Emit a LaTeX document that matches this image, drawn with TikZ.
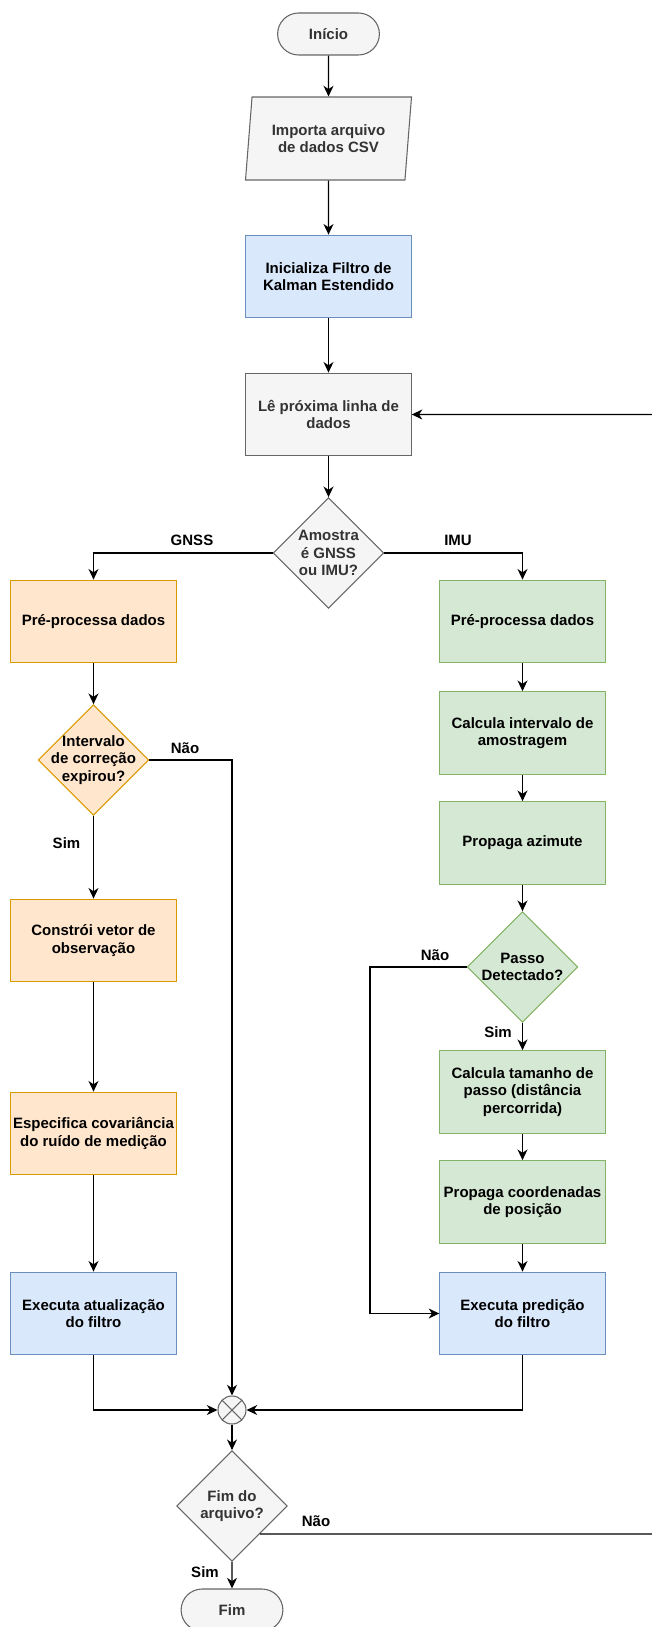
\documentclass[tikz,border=0pt]{standalone}
\usepackage{fontspec}
\setmainfont{Liberation Sans}
\usetikzlibrary{shapes.geometric}
\usetikzlibrary{shapes.misc}
\usetikzlibrary{arrows.meta}

\definecolor{grayfill}{HTML}{F5F5F5}
\definecolor{grayline}{HTML}{666666}
\definecolor{graytext}{HTML}{333333}
\definecolor{bluefill}{HTML}{DAE8FC}
\definecolor{blueline}{HTML}{6C8EBF}
\definecolor{orangefill}{HTML}{FFE6CC}
\definecolor{orangeline}{HTML}{D79B00}
\definecolor{greenfill}{HTML}{D5E8D4}
\definecolor{greenline}{HTML}{82B366}

\tikzset{
    flow_font/.style={font=\bfseries\fontsize{11.25}{13}\selectfont},
    task_box/.style={flow_font,rectangle,draw,line width=0.8pt,align=center,
        minimum width=124pt,minimum height=62pt,inner xsep=1pt},
    test_box/.style={flow_font,diamond,aspect=1,draw,line width=0.8pt,align=center,
        minimum width=83pt,minimum height=83pt,inner sep=-14pt},
    gray_style/.style={fill=grayfill,draw=grayline,text=graytext},
    blue_style/.style={fill=bluefill,draw=blueline},
    orange_style/.style={fill=orangefill,draw=orangeline},
    green_style/.style={fill=greenfill,draw=greenline},
}

\begin{document}
\begin{tikzpicture}[x=0.75pt,y=-0.75pt]
\useasboundingbox (0,0) rectangle (652,1627);
\begin{scope}[every node/.append style={flow_font}]
    % main trunk
    \node (start) [rounded rectangle,draw,line width=0.8pt,gray_style,minimum width=83pt,minimum height=31.5pt] at (328.5,34) {Início};
    \node (imp) [trapezium,trapezium left angle=77,trapezium right angle=103,trapezium stretches body,
        draw,line width=0.8pt,gray_style,align=center,minimum width=124.5pt,minimum height=62.25pt,inner sep=0pt] at (328.5,138.5) {Importa arquivo\\de dados CSV};
    \node (init) [task_box,blue_style] at (328.5,276.5) {Inicializa Filtro de\\Kalman Estendido};
    \node (read) [task_box,gray_style] at (328.5,414.5) {Lê próxima linha de\\dados};
    \node (kind) [test_box,gray_style] at (328.5,553) {Amostra\\é GNSS\\ou IMU?};
    % GNSS branch
    \node (gpre) [task_box,orange_style] at (93.5,621.5) {Pré-processa dados};
    \node (gdec) [test_box,orange_style] at (93.5,760) {Intervalo\\de correção\\expirou?};
    \node (gobs) [task_box,orange_style] at (93.5,940.5) {Constrói vetor de\\observação};
    \node (gcov) [task_box,orange_style] at (93.5,1133.5) {Especifica covariância\\do ruído de medição};
    \node (gupd) [task_box,blue_style] at (93.5,1313.5) {Executa atualização\\do filtro};
    % IMU branch
    \node (ipre) [task_box,green_style] at (522.5,621.5) {Pré-processa dados};
    \node (idt) [task_box,green_style] at (522.5,733) {Calcula intervalo de\\amostragem};
    \node (iazi) [task_box,green_style] at (522.5,843) {Propaga azimute};
    \node (idec) [test_box,green_style] at (522.5,967) {Passo\\Detectado?};
    \node (istep) [task_box,green_style] at (522.5,1092) {Calcula tamanho de\\passo (distância\\percorrida)};
    \node (ipos) [task_box,green_style] at (522.5,1202) {Propaga coordenadas\\de posição};
    \node (ipred) [task_box,blue_style] at (522.5,1313.5) {Executa predição\\do filtro};
    % join and end
    \node (merge) [circle,draw=grayline,line width=0.8pt,fill=grayfill,minimum size=21pt,inner sep=0pt,
        path picture={\draw[grayline,line width=0.8pt]
            (path picture bounding box.north west) -- (path picture bounding box.south east)
            (path picture bounding box.north east) -- (path picture bounding box.south west);}] at (232,1410) {};
    \node (endq) [test_box,gray_style] at (232,1506) {Fim do\\arquivo?};
    \node (stop) [rounded rectangle,draw,line width=0.8pt,gray_style,minimum width=83pt,minimum height=31.5pt] at (232,1610) {Fim};
    % edge labels
    \node (lgnss) at (192,540) {GNSS};
    \node (limu) at (458,540) {IMU};
    \node (lgno) at (185,748) {Não};
    \node (lgyes) at (66.5,843) {Sim};
    \node (lino) at (435,955) {Não};
    \node (liyes) at (498,1032) {Sim};
    \node (leno) at (316,1521) {Não};
    \node (leyes) at (205,1572) {Sim};
\end{scope}
\coordinate (bypass) at (370,967);
\coordinate (loopbot) at (662,1534);
\coordinate (looptop) at (662,414.5);
\begin{scope}[>={Stealth[length=8pt,width=7.5pt,inset=2.5pt]},
              flow_edge/.style={draw=black,line width=1pt}]
    \path [->] (start) edge [flow_edge] (imp);
    \path [->] (imp) edge [flow_edge] (init);
    \path [->] (init) edge [flow_edge] (read);
    \path [->] (read) edge [flow_edge] (kind);
    \draw [->,flow_edge] (kind.west) -| (gpre.north);
    \draw [->,flow_edge] (kind.east) -| (ipre.north);
    \path [->] (gpre) edge [flow_edge] (gdec);
    \path [->] (gdec) edge [flow_edge] (gobs);
    \draw [->,flow_edge] (gdec.east) -| (merge.north);
    \path [->] (gobs) edge [flow_edge] (gcov);
    \path [->] (gcov) edge [flow_edge] (gupd);
    \draw [->,flow_edge] (gupd.south) |- (merge.west);
    \path [->] (ipre) edge [flow_edge] (idt);
    \path [->] (idt) edge [flow_edge] (iazi);
    \path [->] (iazi) edge [flow_edge] (idec);
    \path [->] (idec) edge [flow_edge] (istep);
    \draw [->,flow_edge] (idec.west) -- (bypass) |- (ipred.west);
    \path [->] (istep) edge [flow_edge] (ipos);
    \path [->] (ipos) edge [flow_edge] (ipred);
    \draw [->,flow_edge] (ipred.south) |- (merge.east);
    \path [->] (merge) edge [flow_edge] (endq);
    \path [->] (endq) edge [flow_edge] (stop);
    \draw [->,flow_edge] (endq.south east) -- (loopbot) -- (looptop) -- (read.east);
\end{scope}
\end{tikzpicture}
\end{document}
